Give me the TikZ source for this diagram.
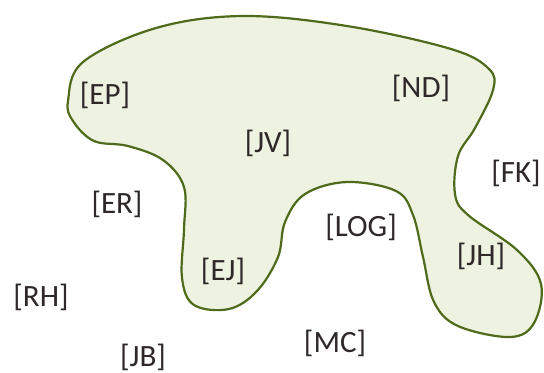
\documentclass[tikz,border=0pt]{standalone}
\usepackage{fontspec}
\setmainfont{Carlito}
\usepackage{xcolor}
\usepackage{tikz}
\usetikzlibrary{positioning}

\definecolor{blobfill}{HTML}{EEF3E1}
\definecolor{blobline}{HTML}{4E6A1A}
\definecolor{labeltext}{HTML}{2E2828}

\begin{document}
\begin{tikzpicture}[
    x=0.5pt, y=-0.5pt,
    blob/.style={draw=blobline, line width=1.1pt, fill=blobfill},
    person/.style={text=labeltext, font=\fontsize{15.5}{18}\selectfont, inner sep=0pt}
]
    \useasboundingbox (0,0) rectangle (544,372);

    % the group
    \draw[blob] plot[smooth cycle, tension=0.6] coordinates {
        (68,101) (83,62) (156,28) (243,16) (347,26) (451,49) (489,69)
        (493,90) (475,128) (458,156) (455,194) (468,215) (517,250)
        (541,284) (534,323) (510,337) (458,326) (434,302) (423,257)
        (413,215) (396,191) (347,182) (305,194) (285,222) (278,257)
        (257,291) (229,309) (194,305) (182,278) (184,229) (184,187)
        (163,160) (128,146) (94,141) (73,121)};

    \node[person] (EP) at (105,95) {[EP]};
    \node[person] (ND) at (421,88) {[ND]};
    \node[person] (JV) at (268,143) {[JV]};
    \node[person] (FK) at (516,173) {[FK]};
    \node[person] (ER) at (117,204) {[ER]};
    \node[person] (LOG) at (361,227) {[LOG]};
    \node[person] (JH) at (481,256) {[JH]};
    \node[person] (EJ) at (223,271) {[EJ]};
    \node[person] (RH) at (41,297) {[RH]};
    \node[person] (MC) at (335,343) {[MC]};
    \node[person] (JB) at (143,357) {[JB]};

\end{tikzpicture}
\end{document}
